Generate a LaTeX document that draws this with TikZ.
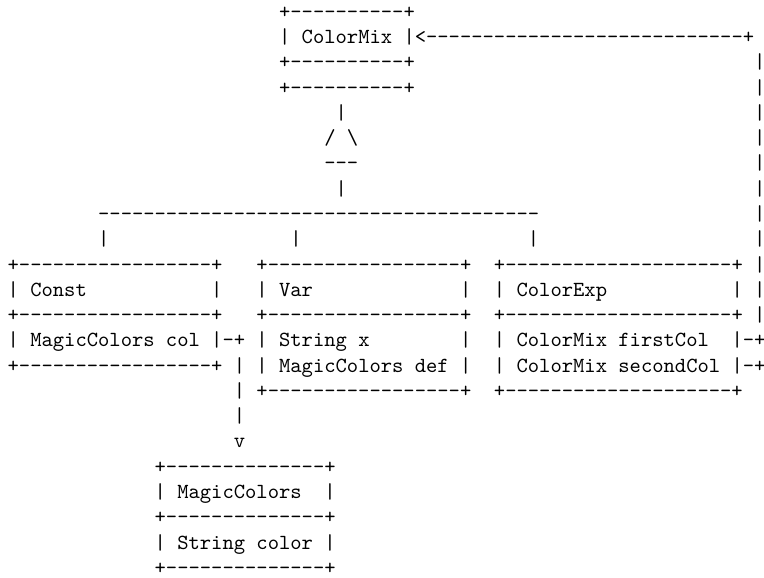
\documentclass[tikz,border=0pt]{standalone}
\newdimen\cw \cw=5.25pt
\newcommand\asp[1]{\hbox to #1\cw{}}
\newcommand\adash[1]{\count255=#1\relax\loop\ifnum\count255>0 \hbox{-}\advance\count255 by -1 \repeat}
\tikzset{
  asciirow/.style={anchor=base west, inner sep=0pt, outer sep=0pt, text=black,
    font=\fontsize{10}{12}\selectfont\ttfamily}
}
\begin{document}
\begin{tikzpicture}[x={(0.464191pt,0)}, y={(0,-0.464191pt)}]
\useasboundingbox (0,0) rectangle (764,577);
\node[asciirow] (r0)  at (7.65, 18.20)  {\asp{24}+\adash{10}+};
\node[asciirow] (r1)  at (7.65, 43.48)  {\asp{24}|~ColorMix~|<\adash{28}+};
\node[asciirow] (r2)  at (7.65, 68.76)  {\asp{24}+\adash{10}+\asp{30}|};
\node[asciirow] (r3)  at (7.65, 94.04)  {\asp{24}+\adash{10}+\asp{30}|};
\node[asciirow] (r4)  at (7.65, 119.32) {\asp{29}|\asp{36}|};
\node[asciirow] (r5)  at (7.65, 144.60) {\asp{28}/\asp{1}\textbackslash\asp{35}|};
\node[asciirow] (r6)  at (7.65, 169.88) {\asp{28}\adash{3}\asp{35}|};
\node[asciirow] (r7)  at (7.65, 195.16) {\asp{29}|\asp{36}|};
\node[asciirow] (r8)  at (7.65, 220.44) {\asp{8}\adash{39}\asp{19}|};
\node[asciirow] (r9)  at (7.65, 245.72) {\asp{8}|\asp{16}|\asp{20}|\asp{19}|};
\node[asciirow] (r10) at (7.65, 271.00) {+\adash{17}+\asp{3}+\adash{17}+\asp{2}+\adash{20}+\asp{1}|};
\node[asciirow] (r11) at (7.65, 296.28) {|\asp{1}Const\asp{11}|\asp{3}|\asp{1}Var\asp{13}|\asp{2}|\asp{1}ColorExp\asp{11}|\asp{1}|};
\node[asciirow] (r12) at (7.65, 321.56) {+\adash{17}+\asp{3}+\adash{17}+\asp{2}+\adash{20}+\asp{1}|};
\node[asciirow] (r13) at (7.65, 346.84) {|\asp{1}MagicColors\asp{1}col\asp{1}|\adash{1}+\asp{1}|\asp{1}String\asp{1}x\asp{8}|\asp{2}|\asp{1}ColorMix\asp{1}firstCol\asp{2}|\adash{1}+};
\node[asciirow] (r14) at (7.65, 372.12) {+\adash{17}+\asp{1}|\asp{1}|\asp{1}MagicColors\asp{1}def\asp{1}|\asp{2}|\asp{1}ColorMix\asp{1}secondCol\asp{1}|\adash{1}+};
\node[asciirow] (r15) at (7.65, 397.40) {\asp{20}|\asp{1}+\adash{17}+\asp{2}+\adash{20}+};
\node[asciirow] (r16) at (7.65, 422.68) {\asp{20}|};
\node[asciirow] (r17) at (7.65, 447.96) {\asp{20}v};
\node[asciirow] (r18) at (7.65, 473.24) {\asp{13}+\adash{14}+};
\node[asciirow] (r19) at (7.65, 498.52) {\asp{13}|\asp{1}MagicColors\asp{2}|};
\node[asciirow] (r20) at (7.65, 523.80) {\asp{13}+\adash{14}+};
\node[asciirow] (r21) at (7.65, 549.08) {\asp{13}|\asp{1}String\asp{1}color\asp{1}|};
\node[asciirow] (r22) at (7.65, 574.36) {\asp{13}+\adash{14}+};
\end{tikzpicture}
\end{document}
